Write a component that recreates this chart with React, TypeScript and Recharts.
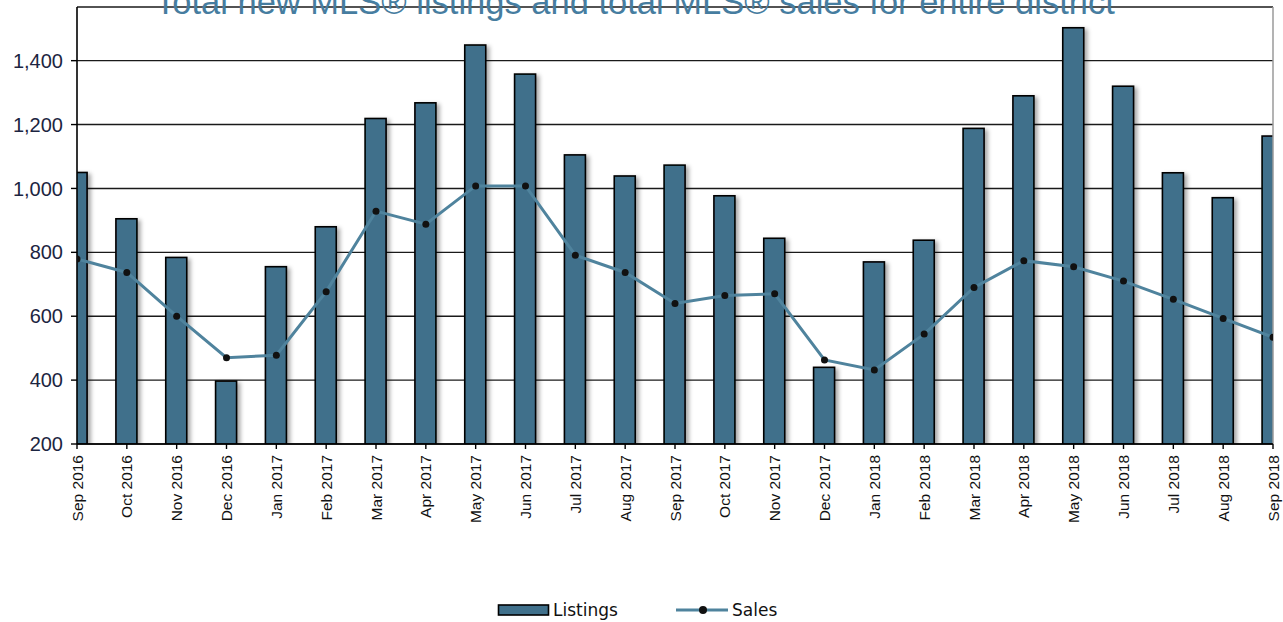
import React from "react";
import {
  ComposedChart,
  Bar,
  Line,
  XAxis,
  YAxis,
  CartesianGrid,
  Legend,
  ReferenceLine,
} from "recharts";

const months = [
  "Sep 2016", "Oct 2016", "Nov 2016", "Dec 2016", "Jan 2017", "Feb 2017",
  "Mar 2017", "Apr 2017", "May 2017", "Jun 2017", "Jul 2017", "Aug 2017",
  "Sep 2017", "Oct 2017", "Nov 2017", "Dec 2017", "Jan 2018", "Feb 2018",
  "Mar 2018", "Apr 2018", "May 2018", "Jun 2018", "Jul 2018", "Aug 2018",
  "Sep 2018",
];

const listings = [
  1050, 905, 784, 397, 755, 880, 1219, 1268, 1449, 1358, 1105, 1039,
  1073, 977, 844, 440, 770, 838, 1188, 1290, 1503, 1320, 1049, 971, 1164,
];

const sales = [
  779, 737, 600, 470, 478, 677, 929, 888, 1008, 1008, 791, 737,
  640, 665, 670, 463, 432, 544, 690, 774, 755, 710, 653, 593, 534,
];

const yTicks = [200, 400, 600, 800, 1000, 1200, 1400];
const xTicks = months.map((_, i) => i);

const title = "Total new MLS\u00AE listings and total MLS\u00AE sales for entire district";

const data = months.map((m, i) => ({
  idx: i,
  month: m,
  Listings: listings[i],
  Sales: sales[i],
}));

const BAR_FILL = "#40708b";
const LINE_COLOR = "#4f839d";

const XTick = (props: any) => {
  const { x, y, payload } = props;
  return (
    <text
      transform={`translate(${x},${y + 4}) rotate(-90)`}
      textAnchor="end"
      dy="0.36em"
      fontSize={15.5}
      fontFamily="Arial, 'Liberation Sans', sans-serif"
      fill="#111"
    >
      {months[payload.value]}
    </text>
  );
};

const BarShape = (props: any) => {
  const { x, y, width, height } = props;
  if (height == null || height <= 0) return null;
  return (
    <rect
      x={x}
      y={y}
      width={width}
      height={height}
      fill={BAR_FILL}
      stroke="#000"
      strokeWidth={1.6}
      filter="url(#barShadow)"
    />
  );
};

const LegendContent = () => (
  <svg width={1283} height={24} style={{ display: "block" }}>
    <rect x={498.5} y={7} width={50} height={10} fill={BAR_FILL} stroke="#000" strokeWidth={1.6} />
    <text x={553} y={18} fontSize={17} fontFamily="'DejaVu Sans', sans-serif" fill="#111">
      Listings
    </text>
    <line x1={676} y1={12} x2={728} y2={12} stroke={LINE_COLOR} strokeWidth={3} />
    <circle cx={703} cy={12} r={4} fill="#111" />
    <text x={732} y={18} fontSize={17} fontFamily="'DejaVu Sans', sans-serif" fill="#111">
      Sales
    </text>
  </svg>
);

export default function App() {
  return (
    <div
      style={{
        position: "absolute",
        left: 0,
        top: 0,
        width: 1283,
        height: 622,
        overflow: "hidden",
        background: "#fff",
      }}
    >
      <ComposedChart
        width={1283}
        height={622}
        data={data}
        margin={{ top: 7, right: 10, left: 0, bottom: 0 }}
      >
        <defs>
          <filter id="barShadow" x="-50%" y="-10%" width="200%" height="130%">
            <feDropShadow dx={3} dy={2} stdDeviation={2.2} floodColor="#000" floodOpacity={0.35} />
          </filter>
        </defs>
        <CartesianGrid vertical={false} stroke="#1a1a1a" strokeWidth={1.4} />
        <XAxis
          dataKey="idx"
          type="number"
          domain={[0, 24]}
          ticks={xTicks}
          interval={0}
          allowDataOverflow
          height={154}
          tickSize={5}
          tickMargin={2}
          tick={<XTick />}
          axisLine={{ stroke: "#000", strokeWidth: 1.6 }}
          tickLine={{ stroke: "#000", strokeWidth: 1.4 }}
        />
        <YAxis
          type="number"
          domain={[200, 1568]}
          ticks={yTicks}
          allowDataOverflow
          width={77}
          tickSize={6}
          tickMargin={8}
          tickFormatter={(v: number) => v.toLocaleString("en-US")}
          tick={{ fontSize: 20, fill: "#1c2541", fontFamily: "Arial, 'Liberation Sans', sans-serif" }}
          axisLine={{ stroke: "#000", strokeWidth: 1.6 }}
          tickLine={{ stroke: "#000", strokeWidth: 1.4 }}
        />
        <ReferenceLine x={24} stroke="#9a9a9a" strokeWidth={1.5} />
        <Bar
          dataKey="Listings"
          barSize={21}
          fill={BAR_FILL}
          shape={<BarShape />}
          isAnimationActive={false}
        />
        <Line
          dataKey="Sales"
          type="linear"
          stroke={LINE_COLOR}
          strokeWidth={3}
          dot={{ r: 3.5, fill: "#111", stroke: "none" }}
          activeDot={false}
          isAnimationActive={false}
        />
        <Legend verticalAlign="bottom" height={24} content={<LegendContent />} />
      </ComposedChart>
      <div
        style={{
          position: "absolute",
          left: 155,
          top: -15,
          fontFamily: "Arial, 'Liberation Sans', sans-serif",
          fontSize: 34.5,
          lineHeight: "34px",
          color: "#467da0",
          whiteSpace: "nowrap",
        }}
      >
        {title}
      </div>
    </div>
  );
}
